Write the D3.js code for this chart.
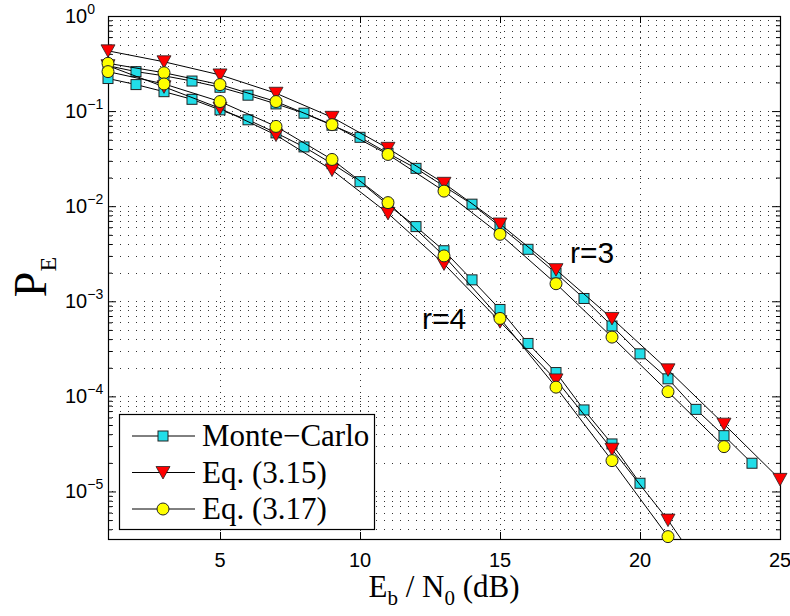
<!DOCTYPE html>
<html>
<head>
<meta charset="utf-8">
<script src="https://cdn.jsdelivr.net/npm/d3@7"></script>
<style>
  body { margin: 0; background: #fff; }
</style>
</head>
<body>
<div id="chart-area"></div>
<script>
/*
*    P_E versus Eb/N0, r = 3 and r = 4
*/

// Monte-Carlo, every dB
var snrMC3 = [1, 2, 3, 4, 5, 6, 7, 8, 9, 10, 11, 12, 13, 14, 15, 16, 17, 18, 19, 20, 21, 22, 23, 24];
var peMC3 = [0.30, 0.26, 0.235, 0.207, 0.178, 0.147, 0.119, 0.095, 0.071, 0.053, 0.036, 0.025,
             0.0162, 0.0105, 0.0061, 0.00352, 0.00197, 0.00107, 0.00055, 0.00028, 0.000153,
             7.3e-5, 3.86e-5, 1.98e-5];
var snrMC4 = [1, 2, 3, 4, 5, 6, 7, 8, 9, 10, 11, 12, 13, 14, 15, 16, 17, 18, 19, 20];
var peMC4 = [0.22, 0.19, 0.16, 0.133, 0.103, 0.081, 0.059, 0.042, 0.028, 0.0181, 0.0103, 0.0061,
             0.0034, 0.00168, 0.00082, 0.00036, 0.000178, 7.2e-5, 3.16e-5, 1.22e-5];

// analytic curves, every 2 dB
var snrEq = [1, 3, 5, 7, 9, 11, 13, 15, 17, 19, 21, 23, 25];
var peEq15r3 = [0.43, 0.33, 0.24, 0.154, 0.086, 0.0406, 0.0174, 0.0065, 0.00215, 0.00066, 0.00019, 5.1e-5, 1.34e-5];
var peEq17r3 = [0.318, 0.253, 0.19, 0.126, 0.072, 0.035, 0.0144, 0.00506, 0.00153, 0.00042, 0.000112, 2.96e-5];
var peEq15r4 = [0.30, 0.18, 0.107, 0.056, 0.024, 0.0084, 0.00247, 0.00061, 0.000149, 2.78e-5, 5.0e-6, 7e-7];
var peEq17r4 = [0.26, 0.193, 0.126, 0.069, 0.031, 0.0109, 0.003, 0.00066, 0.000125, 2.11e-5, 3.35e-6, 4e-7];

var xTicks = [5, 10, 15, 20, 25];
var yExps = [0, -1, -2, -3, -4, -5];
var legendNames = ["Monte\u2212Carlo", "Eq. (3.15)", "Eq. (3.17)"];

var margin = {top: 16, left: 108};
var width = 672;
var height = 523;

var sans = "Arial, 'Liberation Sans', Helvetica, sans-serif";
var serif = "'Times New Roman', 'Liberation Serif', Times, serif";

var svg = d3.select("#chart-area").append("svg")
    .attr("width", 790)
    .attr("height", 616);

var g = svg.append("g")
    .attr("transform", "translate(" + margin.left + ", " + margin.top + ")");

var x = d3.scaleLinear()
    .domain([1, 25])
    .range([0, width]);

var y = d3.scaleLog()
    .domain([Math.pow(10, -5.5), 1])
    .range([height, 0]);

// minor decade positions (2..9 per decade)
var minorVals = [];
var majorVals = yExps.map((e) => Math.pow(10, e));
for (var e = -6; e < 0; e++) {
  for (var k = 2; k <= 9; k++) {
    var v = k * Math.pow(10, e);
    if (v >= y.domain()[0] && v <= 1) minorVals.push(v);
  }
}

// grid
var grid = g.append("g").attr("class", "grid")
    .attr("stroke", "#333")
    .attr("stroke-width", 1)
    .attr("stroke-dasharray", "1,7");
grid.selectAll("line.h")
    .data(majorVals.concat(minorVals))
    .enter().append("line")
    .attr("x1", 4).attr("x2", width)
    .attr("y1", (d) => Math.round(y(d)) + 0.5)
    .attr("y2", (d) => Math.round(y(d)) + 0.5);
grid.selectAll("line.v")
    .data(xTicks.filter((d) => d < 25))
    .enter().append("line")
    .attr("x1", (d) => Math.round(x(d)) + 0.5)
    .attr("x2", (d) => Math.round(x(d)) + 0.5)
    .attr("y1", 4).attr("y2", height)
    .attr("stroke-dasharray", "1,5");

// ticks (inside, MATLAB style)
function tickAxis(axis, tr) {
  var a = g.append("g").attr("transform", tr).call(axis);
  a.select(".domain").remove();
  a.selectAll("line").attr("stroke", "#000");
  a.selectAll("text").remove();
  return a;
}
tickAxis(d3.axisLeft(y).tickValues(majorVals).tickSize(-8), "translate(0,0)");
tickAxis(d3.axisLeft(y).tickValues(minorVals).tickSize(-4), "translate(0,0)");
tickAxis(d3.axisRight(y).tickValues(majorVals).tickSize(-8), "translate(" + width + ",0)");
tickAxis(d3.axisRight(y).tickValues(minorVals).tickSize(-4), "translate(" + width + ",0)");
tickAxis(d3.axisBottom(x).tickValues(xTicks).tickSize(-7), "translate(0," + height + ")");
tickAxis(d3.axisTop(x).tickValues(xTicks).tickSize(-7), "translate(0,0)");

// box
g.append("rect")
    .attr("x", 0.5).attr("y", 0.5)
    .attr("width", width).attr("height", height)
    .attr("fill", "none")
    .attr("stroke", "#000")
    .attr("stroke-width", 1.2);

// y tick labels 10^n
var yl = g.selectAll("text.ylab")
    .data(yExps)
    .enter().append("text")
    .attr("class", "ylab")
    .attr("x", -43)
    .attr("y", (d) => y(Math.pow(10, d)) + 7)
    .attr("font-family", sans)
    .attr("font-size", "20px")
    .attr("fill", "#000");
yl.append("tspan").text("10");
yl.append("tspan")
    .attr("dy", -9)
    .attr("font-size", "14px")
    .text((d) => d === 0 ? "0" : "\u2212" + (-d));

// x tick labels
g.selectAll("text.xlab")
    .data(xTicks)
    .enter().append("text")
    .attr("x", (d) => x(d))
    .attr("y", height + 28)
    .attr("text-anchor", "middle")
    .attr("font-family", sans)
    .attr("font-size", "20px")
    .text((d) => d);

// series
var clip = svg.append("clipPath").attr("id", "plotclip")
    .append("rect").attr("x", 0).attr("y", 0).attr("width", width).attr("height", height);

var line = d3.line()
    .x((d) => x(d[0]))
    .y((d) => y(d[1]));

function zipPts(xs, ys) {
  return ys.map((v, i) => [xs[i], v]);
}

var series = [
  {pts: zipPts(snrMC3, peMC3), mark: "square"},
  {pts: zipPts(snrMC4, peMC4), mark: "square"},
  {pts: zipPts(snrEq, peEq15r3), mark: "tri"},
  {pts: zipPts(snrEq, peEq15r4), mark: "tri"},
  {pts: zipPts(snrEq, peEq17r3), mark: "circle"},
  {pts: zipPts(snrEq, peEq17r4), mark: "circle"}
];

function drawMarker(sel, type) {
  if (type === "square") {
    sel.append("rect")
      .attr("x", -5).attr("y", -5)
      .attr("width", 10).attr("height", 10)
      .attr("fill", "#22dde8")
      .attr("stroke", "#222")
      .attr("stroke-width", 1);
  } else if (type === "tri") {
    sel.append("path")
      .attr("d", "M-7,-6 L7,-6 L0,6.5 Z")
      .attr("fill", "#ff0000")
      .attr("stroke", "#222")
      .attr("stroke-width", 0.8);
  } else {
    sel.append("circle")
      .attr("r", 6)
      .attr("fill", "#ffff00")
      .attr("stroke", "#222")
      .attr("stroke-width", 1);
  }
}

series.forEach((s) => {
  var sg = g.append("g");
  sg.append("path")
    .datum(s.pts)
    .attr("d", line)
    .attr("clip-path", "url(#plotclip)")
    .attr("fill", "none")
    .attr("stroke", "#000")
    .attr("stroke-width", 1);
  var inside = s.pts.filter((d) => d[1] >= y.domain()[0]);
  var m = sg.selectAll("g.m")
    .data(inside)
    .enter().append("g")
    .attr("transform", (d) => "translate(" + x(d[0]) + "," + y(d[1]) + ")");
  drawMarker(m, s.mark);
});

// annotations
g.append("text")
    .attr("x", 570 - margin.left).attr("y", 263 - margin.top)
    .attr("font-family", sans).attr("font-size", "30px")
    .text("r=3");
g.append("text")
    .attr("x", 422 - margin.left).attr("y", 329 - margin.top)
    .attr("font-family", sans).attr("font-size", "30px")
    .text("r=4");

// legend
var lg = svg.append("g").attr("class", "legend");
lg.append("rect")
    .attr("x", 119.5).attr("y", 414.5)
    .attr("width", 255).attr("height", 115)
    .attr("fill", "#fff")
    .attr("stroke", "#000")
    .attr("stroke-width", 1.2);
var marks = ["square", "tri", "circle"];
legendNames.forEach((name, i) => {
  var ry = 436 + i * 36.5;
  lg.append("line")
    .attr("x1", 132).attr("x2", 195)
    .attr("y1", ry).attr("y2", ry)
    .attr("stroke", "#000");
  var mg = lg.append("g").attr("transform", "translate(163," + ry + ")");
  drawMarker(mg, marks[i]);
  lg.append("text")
    .attr("x", 202).attr("y", ry + 10)
    .attr("font-family", serif)
    .attr("font-size", "31px")
    .text(name);
});

// axis titles
var xt = svg.append("text")
    .attr("x", 444).attr("y", 597)
    .attr("text-anchor", "middle")
    .attr("font-family", serif)
    .attr("font-size", "31px");
xt.append("tspan").text("E");
xt.append("tspan").attr("dy", 8).attr("font-size", "21px").text("b");
xt.append("tspan").attr("dy", -8).text(" / N");
xt.append("tspan").attr("dy", 8).attr("font-size", "21px").text("0");
xt.append("tspan").attr("dy", -8).text(" (dB)");

var ytl = svg.append("text")
    .attr("transform", "translate(46,277) rotate(-90)")
    .attr("text-anchor", "middle")
    .attr("font-family", serif)
    .attr("font-size", "46px");
ytl.append("tspan").text("P");
ytl.append("tspan").attr("dy", 10).attr("font-size", "24px").text("E");
</script>
</body>
</html>
